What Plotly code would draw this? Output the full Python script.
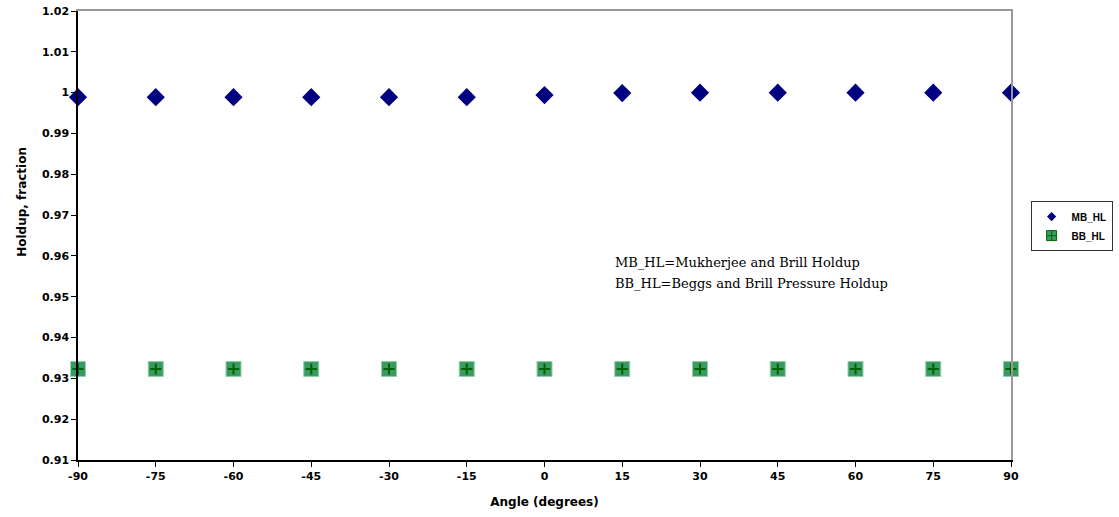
import plotly.graph_objects as go

angles = [-90, -75, -60, -45, -30, -15, 0, 15, 30, 45, 60, 75, 90]
x_labels = ["-90", "-75", "-60", "-45", "-30", "-15", "0", "15", "30", "45", "60", "75", "90"]
mb_hl = [0.9989, 0.9989, 0.9989, 0.9989, 0.9989, 0.9989, 0.9994, 0.9999, 1.0, 1.0, 1.0, 1.0, 1.0]
bb_hl = [0.9323] * 13
y_ticks = [0.91, 0.92, 0.93, 0.94, 0.95, 0.96, 0.97, 0.98, 0.99, 1.0, 1.01, 1.02]
y_labels = ["0.91", "0.92", "0.93", "0.94", "0.95", "0.96", "0.97", "0.98", "0.99", "1", "1.01", "1.02"]

fig = go.Figure()
fig.add_trace(go.Scatter(
    x=angles, y=mb_hl, mode="markers", name="MB_HL", showlegend=False,
    marker=dict(symbol="diamond", size=14, color="#000080", line=dict(width=0)),
    cliponaxis=False))
fig.add_trace(go.Scatter(
    x=angles, y=bb_hl, mode="markers", name="BB_HL", showlegend=False,
    marker=dict(symbol="square", size=15, color="#3a9a62", line=dict(width=1, color="#8fd0a4")),
    cliponaxis=False))
fig.add_trace(go.Scatter(
    x=angles, y=bb_hl, mode="markers", showlegend=False, hoverinfo="skip",
    marker=dict(symbol="cross-thin", size=8, line=dict(width=2, color="#006400")),
    cliponaxis=False))
# legend-only entries with small symbols, like the reference legend
fig.add_trace(go.Scatter(
    x=[None], y=[None], mode="markers", name="MB_HL",
    marker=dict(symbol="diamond", size=7, color="#000080", line=dict(width=0))))
fig.add_trace(go.Scatter(
    x=[None], y=[None], mode="markers", name="BB_HL",
    marker=dict(symbol="square-cross", size=10, color="#3a9a62", line=dict(width=1, color="#006400"))))
fig.add_trace(go.Scatter(x=[None], y=[None], xaxis="x2", yaxis="y2",
                         showlegend=False, hoverinfo="skip"))

tickfont = dict(family="DejaVu Sans, Liberation Sans", size=11, color="black", weight="bold")

fig.update_layout(
    width=1119, height=517,
    margin=dict(l=78, r=108, t=11, b=57, autoexpand=False),
    paper_bgcolor="white", plot_bgcolor="white",
    font=dict(family="Liberation Sans, Arial", color="black"),
    showlegend=True,
    legend=dict(xref="container", yref="container", x=0.921, y=0.611,
                xanchor="left", yanchor="top",
                bordercolor="#333333", borderwidth=1,
                font=dict(family="Liberation Sans, Arial", size=10, color="black", weight="bold"),
                itemsizing="trace", itemwidth=30, tracegroupgap=0),
    xaxis=dict(range=[-90, 90], tickmode="array", tickvals=angles, ticktext=x_labels,
               ticks="outside", ticklen=5, tickcolor="black", automargin=False,
               showline=True, linecolor="black", linewidth=1.5,
               showgrid=False, zeroline=False, tickfont=tickfont,
               title=dict(text="Angle (degrees)", standoff=16,
                          font=dict(family="DejaVu Sans, Liberation Sans", size=12, weight="bold"))),
    xaxis2=dict(overlaying="x", side="top", range=[-90, 90], showline=True, automargin=False,
                linecolor="#999999", linewidth=1.5, showticklabels=False, ticks="",
                showgrid=False, zeroline=False),
    yaxis=dict(range=[0.91, 1.02], tickmode="array", tickvals=y_ticks, ticktext=y_labels,
               ticks="outside", ticklen=5, tickcolor="black", automargin=False,
               showline=True, linecolor="black", linewidth=1.5,
               showgrid=False, zeroline=False, tickfont=tickfont),
    yaxis2=dict(overlaying="y", side="right", range=[0.91, 1.02], showline=True, automargin=False,
                linecolor="#999999", linewidth=1.5, showticklabels=False, ticks="",
                showgrid=False, zeroline=False),
    annotations=[
        dict(text="<b>Holdup, fraction</b>", xref="paper", yref="paper",
             x=-0.06, y=0.575, xanchor="center", yanchor="middle", textangle=-90, showarrow=False,
             font=dict(family="DejaVu Sans, Liberation Sans", size=12, color="black")),
        dict(text="MB_HL=Mukherjee and Brill Holdup",
             xref="paper", yref="paper", x=0.573, y=0.439, xanchor="left", yanchor="middle",
             align="left", showarrow=False,
             font=dict(family="DejaVu Serif, Liberation Serif", size=13, color="black")),
        dict(text="BB_HL=Beggs and Brill Pressure Holdup",
             xref="paper", yref="paper", x=0.573, y=0.394, xanchor="left", yanchor="middle",
             align="left", showarrow=False,
             font=dict(family="DejaVu Serif, Liberation Serif", size=13, color="black")),
    ],
)

fig.write_html("out.html")
